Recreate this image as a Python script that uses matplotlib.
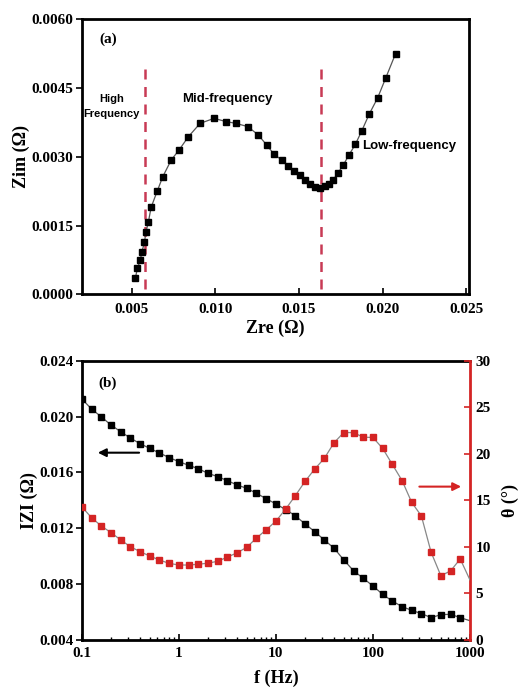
import matplotlib.pyplot as plt
from matplotlib.ticker import FixedLocator, LogLocator, NullFormatter, FuncFormatter

# datos del diagrama de Nyquist (a)
zre = [0.0052, 0.00533, 0.0055, 0.0056, 0.00575, 0.00584, 0.00599, 0.00615, 0.00651, 0.00685,
       0.00735, 0.00784, 0.00838, 0.00908, 0.00992, 0.01062, 0.01123, 0.01193, 0.01256, 0.01306,
       0.01348, 0.01396, 0.01436, 0.01471, 0.01505, 0.01535, 0.01565, 0.01595, 0.01625, 0.01655,
       0.01682, 0.01703, 0.01731, 0.01765, 0.01797, 0.01837, 0.01876, 0.0192, 0.0197, 0.02018,
       0.02078]
zim = [0.00035, 0.00057, 0.00075, 0.00093, 0.00114, 0.00136, 0.00159, 0.0019, 0.00225, 0.00257,
       0.00293, 0.00316, 0.00344, 0.00373, 0.00384, 0.00377, 0.00373, 0.00366, 0.00348, 0.00326,
       0.00307, 0.00293, 0.0028, 0.0027, 0.0026, 0.0025, 0.0024, 0.00234, 0.00233, 0.00236,
       0.00241, 0.00249, 0.00264, 0.00282, 0.00303, 0.00327, 0.00357, 0.00393, 0.00428, 0.00471,
       0.00525]
limites_frecuencia = [0.0058, 0.0163]

# datos del diagrama de Bode (b)
freq = [0.1, 0.126, 0.158, 0.2, 0.251, 0.316, 0.398, 0.501, 0.631, 0.794,
        1, 1.26, 1.58, 2, 2.51, 3.16, 3.98, 5.01, 6.31, 7.94,
        10, 12.6, 15.8, 20, 25.1, 31.6, 39.8, 50.1, 63.1, 79.4,
        100, 126, 158, 200, 251, 316, 398, 501, 631, 794, 1000]
zmod = [0.02126, 0.02054, 0.01999, 0.01939, 0.01892, 0.01846, 0.01806, 0.01772, 0.01739, 0.01706,
        0.01677, 0.01651, 0.01627, 0.01593, 0.0157, 0.01541, 0.0151, 0.01486, 0.0145, 0.01412,
        0.01374, 0.01334, 0.0129, 0.01231, 0.01176, 0.01116, 0.01057, 0.00973, 0.00896, 0.00842,
        0.00787, 0.00727, 0.00679, 0.00639, 0.00612, 0.00589, 0.0056, 0.00581, 0.00584, 0.0056,
        0.00538]
theta = [14.3, 13.14, 12.26, 11.53, 10.76, 10.02, 9.49, 9.02, 8.59, 8.23,
         8.05, 8.05, 8.13, 8.25, 8.45, 8.9, 9.36, 9.95, 10.95, 11.83,
         12.76, 14.05, 15.47, 17.04, 18.35, 19.51, 21.19, 22.28, 22.27, 21.78,
         21.75, 20.58, 18.88, 17.11, 14.78, 13.32, 9.42, 6.91, 7.41, 8.7,
         6.45]

ticks_zre = [0.005, 0.010, 0.015, 0.020, 0.025]
ticks_zim = [0.0, 0.0015, 0.0030, 0.0045, 0.0060]
ticks_zmod = [0.004, 0.008, 0.012, 0.016, 0.020, 0.024]
ticks_theta = [0, 5, 10, 15, 20, 25, 30]
ticks_freq = [0.1, 1, 10, 100, 1000]
etiquetas_freq = ["0.1", "1", "10", "100", "1000"]

ROJO = "#d42424"
ROJO_LINEA = "#c83a55"
serif = ["Liberation Serif", "DejaVu Serif"]
sans = ["Liberation Sans", "DejaVu Sans"]
fs_tick = 11
fs_lab = 13

fig = plt.figure(figsize=(5.21, 6.88), dpi=100)

# ---------- panel (a) ----------
ax1 = fig.add_axes([0.157, 0.572, 0.744, 0.400])
ax1.plot(zre, zim, color="#555555", linewidth=0.9, marker="s", markersize=4.2,
         markerfacecolor="black", markeredgecolor="black", zorder=3)
for xv in limites_frecuencia:
    ax1.plot([xv, xv], [0.00013, 0.00493], color=ROJO_LINEA, linestyle=(0, (4, 3)),
             linewidth=1.8, zorder=2)
ax1.set_xlim(0.002, 0.0252)
ax1.set_ylim(0, 0.006)
ax1.xaxis.set_major_locator(FixedLocator(ticks_zre))
ax1.yaxis.set_major_locator(FixedLocator(ticks_zim))
ax1.xaxis.set_major_formatter(FuncFormatter(lambda v, p: f"{v:.3f}"))
ax1.yaxis.set_major_formatter(FuncFormatter(lambda v, p: f"{v:.4f}"))
ax1.tick_params(axis="x", direction="in", length=4, width=1.2, pad=6)
ax1.tick_params(axis="y", direction="out", length=4, width=1.2, pad=2)
for s in ax1.spines.values():
    s.set_linewidth(2)
for lab in ax1.get_xticklabels() + ax1.get_yticklabels():
    lab.set_family(serif)
    lab.set_fontweight("bold")
    lab.set_fontsize(fs_tick)
ax1.set_xlabel("Zre (Ω)", family=serif, fontweight="bold", fontsize=fs_lab, labelpad=3)
ax1.set_ylabel("Zim (Ω)", family=serif, fontweight="bold", fontsize=fs_lab, labelpad=1)

ax1.text(0.00355, 0.00556, "(a)", family=serif, fontweight="bold", fontsize=fs_tick,
         ha="center", va="center")
ax1.text(0.0038, 0.0041, "High\nFrequency", family=sans, fontweight="bold", fontsize=8,
         ha="center", va="center", linespacing=1.6)
ax1.text(0.01074, 0.00427, "Mid-frequency", family=sans, fontweight="bold", fontsize=9.5,
         ha="center", va="center")
ax1.text(0.01876, 0.00324, "Low-frequency", family=sans, fontweight="bold", fontsize=9.5,
         ha="left", va="center")

# ---------- panel (b) ----------
ax2 = fig.add_axes([0.157, 0.0698, 0.745, 0.406])
ax2.plot(freq, zmod, color="#555555", linewidth=0.9, marker="s", markersize=4.2,
         markerfacecolor="black", markeredgecolor="black", markevery=slice(0, 40), zorder=3)
ax2.set_xscale("log")
ax2.set_xlim(0.1, 1000)
ax2.set_ylim(0.004, 0.024)
ax2.xaxis.set_major_locator(FixedLocator(ticks_freq))
ax2.xaxis.set_major_formatter(FuncFormatter(lambda v, p: etiquetas_freq[ticks_freq.index(v)] if v in ticks_freq else ""))
ax2.xaxis.set_minor_locator(LogLocator(base=10, subs=range(2, 10)))
ax2.xaxis.set_minor_formatter(NullFormatter())
ax2.yaxis.set_major_locator(FixedLocator(ticks_zmod))
ax2.yaxis.set_major_formatter(FuncFormatter(lambda v, p: f"{v:.3f}"))
ax2.tick_params(axis="x", which="major", direction="in", length=4, width=1.2, pad=5)
ax2.tick_params(axis="x", which="minor", direction="in", length=2.5, width=1)
ax2.tick_params(axis="y", direction="out", length=4, width=1.2, pad=2)
for s in ax2.spines.values():
    s.set_linewidth(2)
ax2.spines["right"].set_visible(False)

ax3 = ax2.twinx()
ax3.plot(freq, theta, color="#888888", linewidth=0.9, marker="s", markersize=4.2,
         markerfacecolor=ROJO, markeredgecolor=ROJO, markevery=slice(0, 40), zorder=3)
ax3.set_ylim(0, 30)
ax3.yaxis.set_major_locator(FixedLocator(ticks_theta))
ax3.tick_params(axis="y", direction="in", length=4, width=1.2, color=ROJO, pad=4)
for s in ax3.spines.values():
    s.set_visible(False)
ax3.spines["right"].set_visible(True)
ax3.spines["right"].set_color(ROJO)
ax3.spines["right"].set_linewidth(2)

for lab in ax2.get_xticklabels() + ax2.get_yticklabels() + ax3.get_yticklabels():
    lab.set_family(serif)
    lab.set_fontweight("bold")
    lab.set_fontsize(fs_tick)

ax2.set_xlabel("f (Hz)", family=serif, fontweight="bold", fontsize=fs_lab, labelpad=7)
ax2.set_ylabel("IZI (Ω)", family=serif, fontweight="bold", fontsize=fs_lab, labelpad=1)
ax3.set_ylabel("θ (°)", family=serif, fontweight="bold", fontsize=fs_lab, labelpad=8)

ax2.text(0.184, 0.02238, "(b)", family=serif, fontweight="bold", fontsize=fs_tick,
         ha="center", va="center")
ax2.annotate("", xy=(0.137, 0.01741), xytext=(0.416, 0.01741),
             arrowprops=dict(arrowstyle="-|>", color="black", lw=1.5, mutation_scale=12))
ax3.annotate("", xy=(867, 16.47), xytext=(282, 16.47),
             arrowprops=dict(arrowstyle="-|>", color=ROJO, lw=1.5, mutation_scale=12))

plt.savefig("out.png", dpi=100)
